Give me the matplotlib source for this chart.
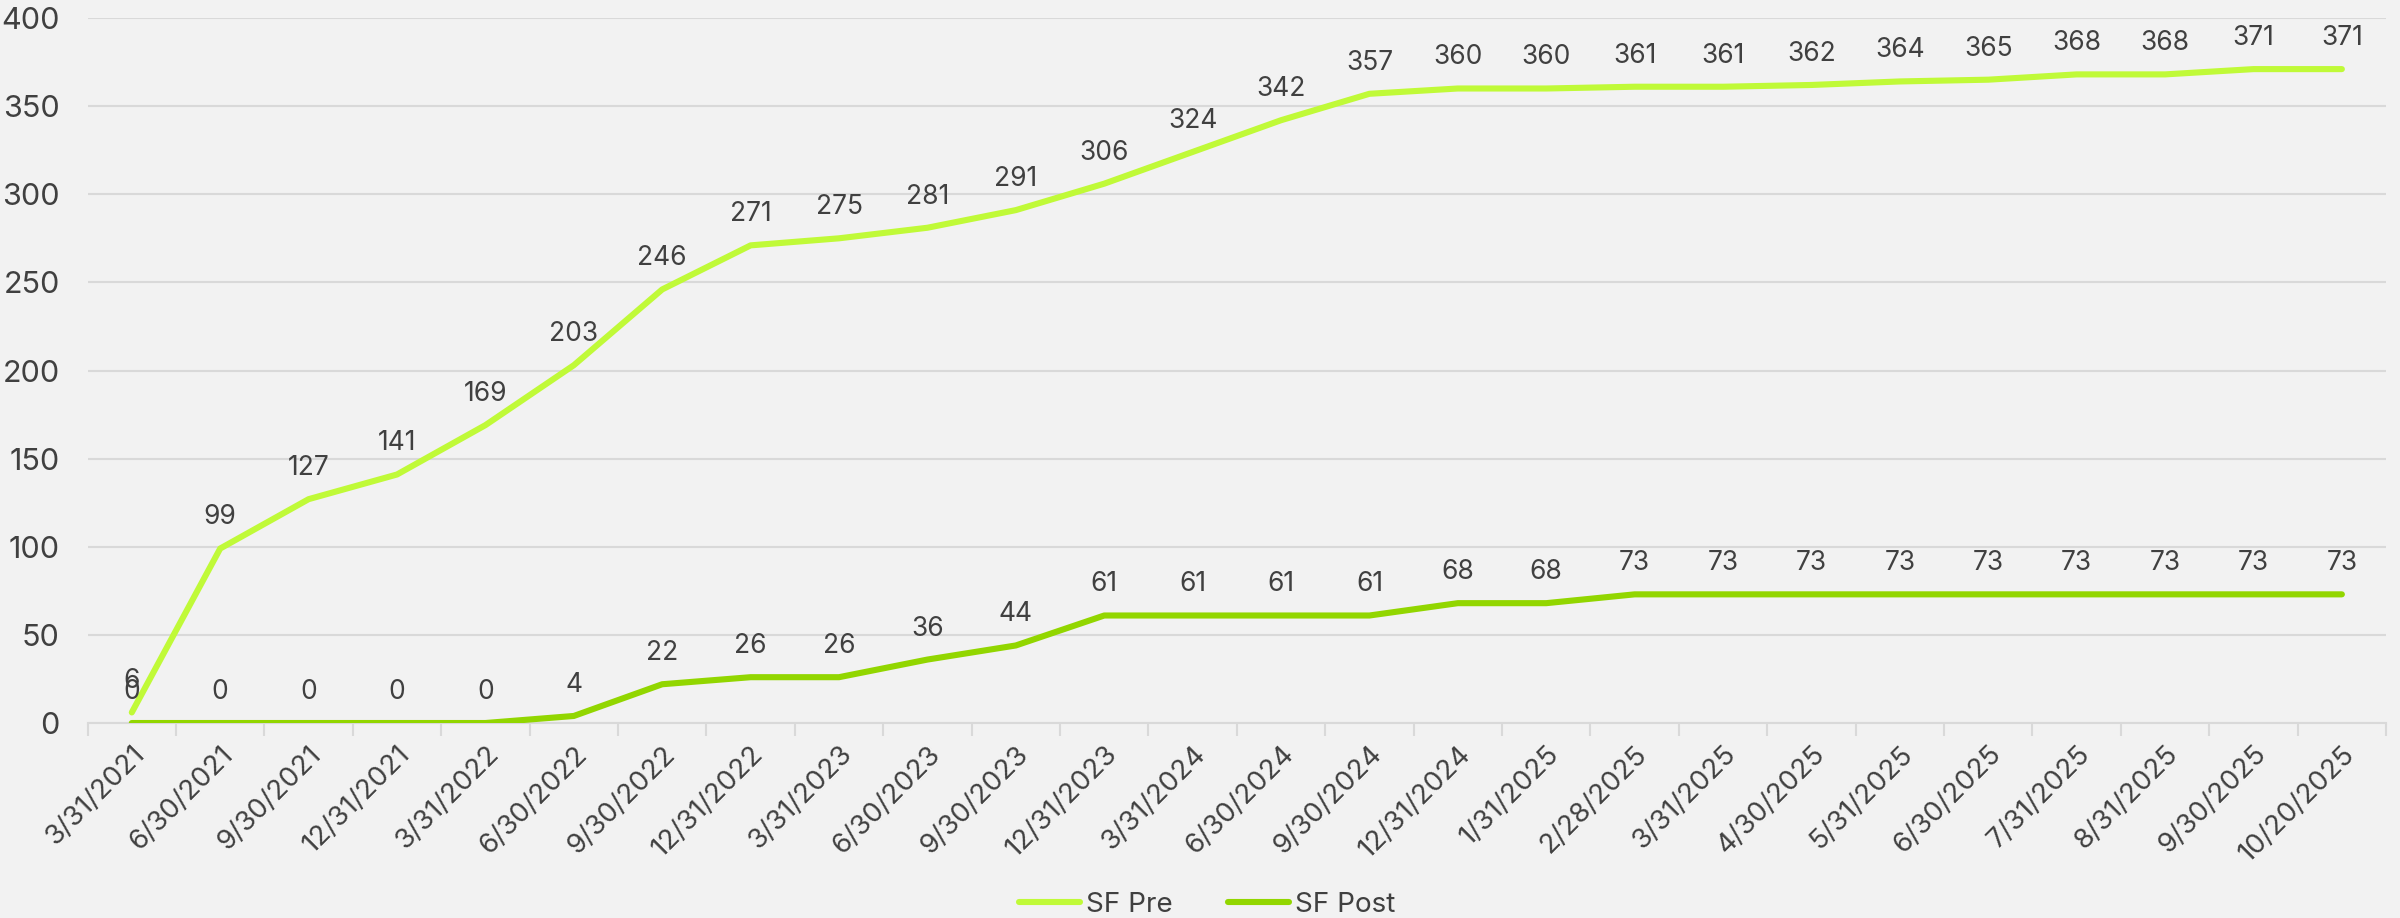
import numpy as np
import matplotlib.pyplot as plt
from matplotlib.ticker import MultipleLocator, FixedLocator

plt.rcParams['font.family'] = ['Inter', 'DejaVu Sans']

dates = ['3/31/2021', '6/30/2021', '9/30/2021', '12/31/2021', '3/31/2022',
         '6/30/2022', '9/30/2022', '12/31/2022', '3/31/2023', '6/30/2023',
         '9/30/2023', '12/31/2023', '3/31/2024', '6/30/2024', '9/30/2024',
         '12/31/2024', '1/31/2025', '2/28/2025', '3/31/2025', '4/30/2025',
         '5/31/2025', '6/30/2025', '7/31/2025', '8/31/2025', '9/30/2025',
         '10/20/2025']
sf_pre = [6, 99, 127, 141, 169, 203, 246, 271, 275, 281, 291, 306, 324, 342,
          357, 360, 360, 361, 361, 362, 364, 365, 368, 368, 371, 371]
sf_post = [0, 0, 0, 0, 0, 4, 22, 26, 26, 36, 44, 61, 61, 61, 61, 68, 68,
           73, 73, 73, 73, 73, 73, 73, 73, 73]

bg = '#f2f2f2'
grid_col = '#d9d9d9'
text_col = '#404040'
pre_col = '#c0fa38'
post_col = '#92d600'

fig = plt.figure(figsize=(24, 9.18), dpi=100, facecolor=bg)
ax = fig.add_axes([0.0365, 0.2124, 0.9577, 0.768])
ax.set_facecolor(bg)

x = np.arange(len(dates))
ax.plot(x, sf_pre, color=pre_col, lw=4.4, solid_capstyle='round', solid_joinstyle='round', label='SF Pre', zorder=3)
ax.plot(x, sf_post, color=post_col, lw=4.4, solid_capstyle='round', solid_joinstyle='round', label='SF Post', zorder=3)

# data labels above each point
for i in x:
    ax.annotate(str(sf_pre[i]), (i, sf_pre[i]), xytext=(0, 13), textcoords='offset points',
                ha='center', va='bottom', fontsize=19, color=text_col)
    ax.annotate(str(sf_post[i]), (i, sf_post[i]), xytext=(0, 13), textcoords='offset points',
                ha='center', va='bottom', fontsize=19, color=text_col)

ax.set_xlim(-0.5, len(dates) - 0.5)
ax.set_ylim(0, 400)
ax.yaxis.set_major_locator(MultipleLocator(50))
ax.grid(axis='y', color=grid_col, lw=1.5, zorder=0)

ax.set_xticks(x)
ax.set_xticklabels(dates, rotation=45, ha='right', va='top', rotation_mode='anchor',
                   fontsize=20, color=text_col)
ax.tick_params(axis='x', which='major', length=0, pad=13)
ax.xaxis.set_minor_locator(FixedLocator(np.arange(-0.5, len(dates), 1)))
ax.tick_params(axis='x', which='minor', length=9, width=1.5, color=grid_col)
ax.tick_params(axis='y', length=0, labelsize=22, labelcolor=text_col, pad=20)

for side in ['top', 'right', 'left']:
    ax.spines[side].set_visible(False)
ax.spines['bottom'].set_color(grid_col)
ax.spines['bottom'].set_linewidth(1.5)

fig.legend(loc='center', bbox_to_anchor=(0.503, 0.014), ncol=2, frameon=False,
           fontsize=20, labelcolor=text_col, handlelength=2.2, handletextpad=0.2,
           columnspacing=2.0)

fig.savefig('out.png', dpi=100, facecolor=bg)
